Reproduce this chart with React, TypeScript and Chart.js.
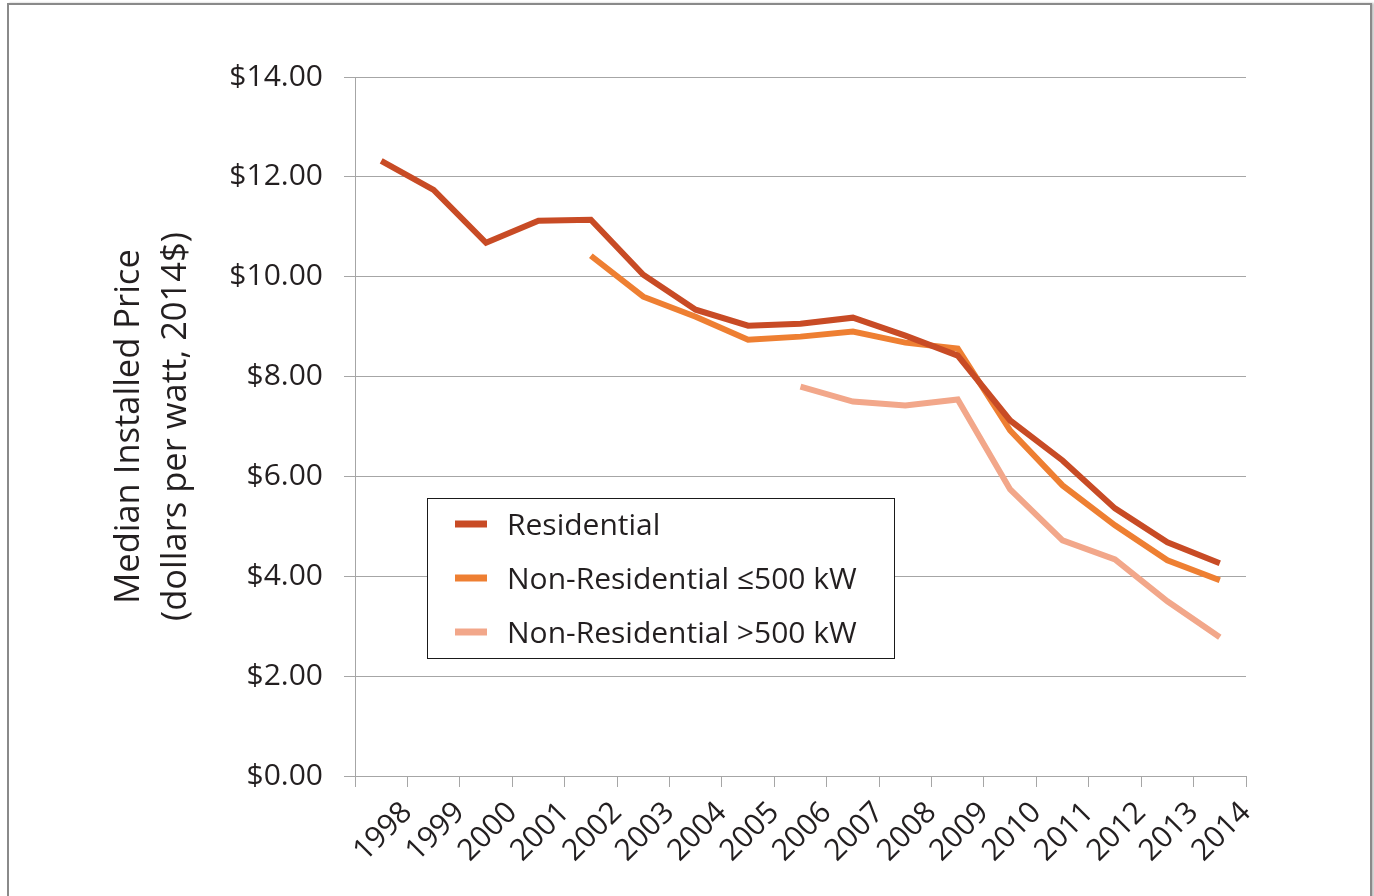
import React, { useEffect, useRef } from "react";
import { Chart, registerables } from "chart.js";

Chart.register(...registerables);

const years = ["1998","1999","2000","2001","2002","2003","2004","2005","2006","2007","2008","2009","2010","2011","2012","2013","2014"];
const residential = [12.32, 11.74, 10.68, 11.12, 11.14, 10.04, 9.34, 9.02, 9.06, 9.18, 8.82, 8.42, 7.12, 6.32, 5.36, 4.68, 4.26];
const nonResSmall = [null, null, null, null, 10.42, 9.6, 9.2, 8.74, 8.8, 8.9, 8.68, 8.56, 6.92, 5.82, 5.02, 4.32, 3.92];
const nonResLarge = [null, null, null, null, null, null, null, null, 7.8, 7.5, 7.42, 7.54, 5.74, 4.72, 4.34, 3.5, 2.78];
const yTicks = [0, 2, 4, 6, 8, 10, 12, 14];

const seriesNames = ["Residential", "Non-Residential \u2264500 kW", "Non-Residential >500 kW"];
const seriesColors = ["#C84B25", "#EE7F32", "#F2A78A"];

const FONT = "'Open Sans', 'Noto Sans', sans-serif";

const toPoints = (arr: (number | null)[]) =>
  arr.map((v, i) => ({ x: i + 0.5, y: v }));

const legendPlugin = {
  id: "innerLegend",
  afterDraw(chart: any) {
    const { ctx, chartArea } = chart;
    const left = chartArea.left + 72;
    const top = chartArea.top + 421;
    const w = 467;
    const h = 160;
    ctx.save();
    ctx.fillStyle = "#ffffff";
    ctx.fillRect(left, top, w, h);
    ctx.strokeStyle = "#1a1a1a";
    ctx.lineWidth = 1;
    ctx.strokeRect(left + 0.5, top + 0.5, w, h);
    ctx.font = `30px ${FONT}`;
    ctx.textBaseline = "middle";
    ctx.textAlign = "left";
    chart.data.datasets.forEach((ds: any, i: number) => {
      const cy = top + 26 + i * 54;
      ctx.strokeStyle = ds.borderColor;
      ctx.lineWidth = 7;
      ctx.lineCap = "butt";
      ctx.beginPath();
      ctx.moveTo(left + 28, cy);
      ctx.lineTo(left + 60, cy);
      ctx.stroke();
      ctx.fillStyle = "#231f20";
      ctx.fillText(ds.label, left + 80, cy + 2);
    });
    ctx.restore();
  },
};

export default function App() {
  const ref = useRef<HTMLCanvasElement | null>(null);
  useEffect(() => {
    if (!ref.current) return;
    const datasets = [residential, nonResSmall, nonResLarge].map((arr, i) => ({
      label: seriesNames[i],
      data: toPoints(arr),
      borderColor: seriesColors[i],
      backgroundColor: seriesColors[i],
      borderWidth: 6,
      pointRadius: 0,
      tension: 0,
      borderJoinStyle: "miter" as const,
      borderCapStyle: "butt" as const,
      spanGaps: false,
    }));
    const chart = new Chart(ref.current, {
      type: "line",
      data: { datasets },
      options: {
        animation: false,
        responsive: false,
        devicePixelRatio: 1,
        layout: { padding: { left: 106, top: 77, right: 128, bottom: 0 } },
        plugins: { legend: { display: false }, tooltip: { enabled: false } },
        scales: {
          x: {
            type: "linear",
            min: 0,
            max: years.length,
            afterBuildTicks: (scale: any) => {
              scale.ticks = years.map((_, i) => ({ value: i })).concat([{ value: years.length }]);
            },
            afterFit: (scale: any) => {
              scale.height = 120;
            },
            border: { display: true, color: "#a6a6a6", width: 1 },
            grid: {
              drawOnChartArea: false,
              drawTicks: true,
              tickLength: 11,
              color: "#a6a6a6",
              lineWidth: 1,
            },
            ticks: {
              autoSkip: false,
              minRotation: 45,
              maxRotation: 45,
              padding: 8,
              color: "#231f20",
              font: { family: FONT, size: 30 },
              callback: (v: any) => {
                const n = Math.round(Number(v));
                return n >= 1 && n <= years.length ? years[n - 1] : "";
              },
            },
          },
          y: {
            min: 0,
            max: 14,
            afterBuildTicks: (scale: any) => {
              scale.ticks = yTicks.map((v) => ({ value: v }));
            },
            afterFit: (scale: any) => {
              scale.width = 249;
            },
            border: { display: true, color: "#a6a6a6", width: 1 },
            grid: {
              color: "#a6a6a6",
              lineWidth: 1,
              tickLength: 11,
            },
            ticks: {
              padding: 21,
              color: "#231f20",
              font: { family: FONT, size: 30 },
              callback: (v: any) => "$" + Number(v).toFixed(2),
            },
            title: {
              display: true,
              text: ["Median Installed Price", "(dollars per watt, 2014$)"],
              color: "#231f20",
              font: { family: FONT, size: 34.5, lineHeight: 1.35 },
              padding: 0,
            },
          },
        },
      },
      plugins: [legendPlugin],
    });
    return () => chart.destroy();
  }, []);

  return (
    <div style={{ position: "fixed", left: 0, top: 0, width: 1374, height: 896, background: "#fff", overflow: "hidden" }}>
      <div
        style={{
          position: "absolute",
          left: 7,
          top: 3,
          width: 1361,
          height: 1000,
          border: "2px solid #8a8a8a",
          boxShadow: "2px 0 2px rgba(0,0,0,0.25)",
          boxSizing: "content-box",
        }}
      />
      <canvas ref={ref} width={1374} height={896} style={{ position: "absolute", left: 0, top: 0 }} />
    </div>
  );
}
